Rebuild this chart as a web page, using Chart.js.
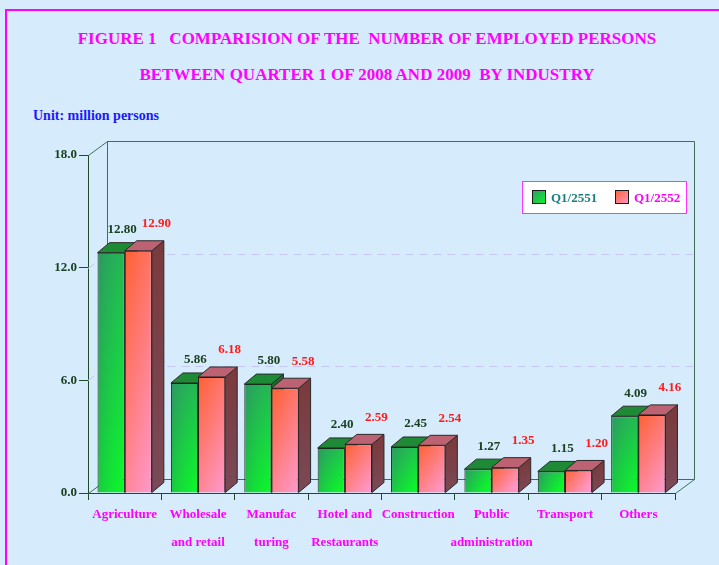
<!DOCTYPE html>
<html>
<head>
<meta charset="utf-8">
<script src="https://cdn.jsdelivr.net/npm/chart.js@4.4.1/dist/chart.umd.min.js"></script>
<style>
  body { margin: 0; width: 719px; height: 565px; overflow: hidden; background: #d6ebfc; position: relative; }
  #frame { position: absolute; left: 5px; top: 9px; width: 800px; height: 700px; border: 2px solid #ff00ff; }
  .title { position: absolute; left: 0; width: 734px; text-align: center; white-space: pre;
           font-family: 'Liberation Serif', serif; font-weight: bold; font-size: 17px; color: #ff00ff; }
  #unit { position: absolute; left: 33px; top: 108px; font-family: 'Liberation Serif', serif;
          font-weight: bold; font-size: 14px; color: #1a1aff; white-space: pre; }
  canvas { position: absolute; left: 0; top: 0; }
</style>
</head>
<body>
<div id="frame"></div>
<div class="title" style="top:29px">FIGURE 1   COMPARISION OF THE  NUMBER OF EMPLOYED PERSONS</div>
<div class="title" style="top:65px">BETWEEN QUARTER 1 OF 2008 AND 2009  BY INDUSTRY</div>
<div id="unit">Unit: million persons</div>
<canvas id="myChart" width="719" height="565"></canvas>
<script>
// data
const industries = [['Agriculture'], ['Wholesale', 'and retail'], ['Manufac', 'turing'], ['Hotel and', 'Restaurants'],
  ['Construction'], ['Public', 'administration'], ['Transport'], ['Others']];
const q2551 = [12.80, 5.86, 5.80, 2.40, 2.45, 1.27, 1.15, 4.09];
const q2552 = [12.90, 6.18, 5.58, 2.59, 2.54, 1.35, 1.20, 4.16];
const seriesNames = ['Q1/2551', 'Q1/2552'];

const serif = "'Liberation Serif', 'Times New Roman', serif";
const DX = 12, DY = 10;   // bar depth
const WX = 19, WY = 14;   // wall depth
const wallColor = '#3f6f55';
const axisColor = '#1f4a2c';

const looks = [
  { c1: '#2f9a68', c2: '#0cf52c', hl: 'rgba(45,140,95,0.45)', hr: 'rgba(10,255,40,0.25)',
    top: '#1f8a35', side: '#1f6a2c', label: '#1a4020' },
  { c1: '#ff6030', c2: '#ff9acc', hl: 'rgba(255,95,45,0.35)', hr: 'rgba(255,150,200,0.35)',
    top: '#bd6272', side: '#7a3b3e', label: '#ff1a1a' }
];

function frontFill(context) {
  const chart = context.chart;
  const look = looks[context.datasetIndex];
  if (!chart.chartArea) return look.c1;
  const x = chart.scales.x, y = chart.scales.y;
  const w = (x.getPixelForValue(1) - x.getPixelForValue(0)) * 0.74 / 2;
  const cx = x.getPixelForValue(context.dataIndex);
  const left = context.datasetIndex === 0 ? cx - w : cx;
  const top = y.getPixelForValue(context.raw);
  const h = Math.max(2, y.getPixelForValue(0) - top);
  const off = document.createElement('canvas');
  off.width = Math.ceil(w) + 2;
  off.height = Math.ceil(h) + 2;
  const o = off.getContext('2d');
  const gv = o.createLinearGradient(0, 0, w * 0.6, h);
  gv.addColorStop(0, look.c1);
  gv.addColorStop(1, look.c2);
  o.fillStyle = gv;
  o.fillRect(0, 0, off.width, off.height);
  const gh = o.createLinearGradient(0, 0, w, 0);
  gh.addColorStop(0, look.hl);
  gh.addColorStop(1, look.hr);
  o.fillStyle = gh;
  o.fillRect(0, 0, off.width, off.height);
  const pat = chart.ctx.createPattern(off, 'no-repeat');
  pat.setTransform(new DOMMatrix().translate(left - 1, top - 1));
  return pat;
}

const box3d = {
  id: 'box3d',
  beforeDatasetsDraw(chart) {
    const { ctx, chartArea: a, scales: { y } } = chart;
    ctx.save();
    ctx.lineWidth = 1;
    // dashed grid on the back wall
    ctx.strokeStyle = '#c4c8f2';
    ctx.setLineDash([8, 6]);
    [6, 12].forEach(v => {
      const py = Math.round(y.getPixelForValue(v)) + 0.5;
      ctx.beginPath();
      ctx.moveTo(a.left, py);
      ctx.lineTo(a.left + WX, py - WY);
      ctx.lineTo(a.right + WX, py - WY);
      ctx.stroke();
    });
    ctx.setLineDash([]);
    // walls
    ctx.strokeStyle = wallColor;
    const L = a.left + 0.5, R = a.right + 0.5, T = a.top + 0.5, B = a.bottom + 0.5;
    ctx.beginPath();
    ctx.moveTo(L, T); ctx.lineTo(L + WX, T - WY); ctx.lineTo(R + WX, T - WY); ctx.lineTo(R + WX, B - WY);
    ctx.moveTo(L + WX, T - WY); ctx.lineTo(L + WX, B - WY); ctx.lineTo(R + WX, B - WY); ctx.lineTo(R, B);
    ctx.moveTo(L, B); ctx.lineTo(L + WX, B - WY);
    ctx.stroke();
    // top and side faces
    ctx.strokeStyle = '#2a2a2a';
    chart.data.datasets.forEach((ds, di) => {
      const meta = chart.getDatasetMeta(di);
      meta.data.forEach(bar => {
        const p = bar.getProps(['x', 'y', 'width', 'base'], true);
        const l = p.x - p.width / 2, r = p.x + p.width / 2, t = p.y, b = p.base;
        const gs = ctx.createLinearGradient(r, t, r + DX, b);
        gs.addColorStop(0, looks[di].side);
        gs.addColorStop(1, di === 0 ? '#2a5a35' : '#7a4a58');
        ctx.fillStyle = gs;
        ctx.beginPath();
        ctx.moveTo(r, t); ctx.lineTo(r + DX, t - DY); ctx.lineTo(r + DX, b - DY); ctx.lineTo(r, b);
        ctx.closePath(); ctx.fill(); ctx.stroke();
        ctx.fillStyle = looks[di].top;
        ctx.beginPath();
        ctx.moveTo(l, t); ctx.lineTo(r, t); ctx.lineTo(r + DX, t - DY); ctx.lineTo(l + DX, t - DY);
        ctx.closePath(); ctx.fill(); ctx.stroke();
      });
    });
    ctx.restore();
  },
  afterDatasetsDraw(chart) {
    const ctx = chart.ctx;
    ctx.save();
    ctx.font = 'bold 13px ' + serif;
    ctx.textAlign = 'center';
    ctx.textBaseline = 'middle';
    chart.data.datasets.forEach((ds, di) => {
      chart.getDatasetMeta(di).data.forEach((bar, i) => {
        ctx.fillStyle = looks[di].label;
        const off = di === 0 ? [11, 23] : [18, 27];
        ctx.fillText(ds.data[i].toFixed(2), bar.x + off[0], bar.y - off[1]);
      });
    });
    ctx.restore();
  },
  afterDraw(chart) {
    // legend box
    const ctx = chart.ctx;
    ctx.save();
    ctx.fillStyle = '#ffffff';
    ctx.fillRect(522, 181, 165, 33);
    ctx.strokeStyle = '#ff33ff';
    ctx.lineWidth = 1;
    ctx.strokeRect(522.5, 181.5, 164, 32);
    ctx.font = 'bold 13px ' + serif;
    ctx.textBaseline = 'middle';
    const items = [[532, '#1a8080'], [615, '#ff00ff']];
    items.forEach((it, k) => {
      const g = ctx.createLinearGradient(it[0], 190, it[0] + 14, 204);
      g.addColorStop(0, looks[k].c1);
      g.addColorStop(1, looks[k].c2);
      ctx.fillStyle = g;
      ctx.fillRect(it[0], 190, 14, 14);
      ctx.strokeStyle = '#1a1a1a';
      ctx.strokeRect(it[0] + 0.5, 190.5, 13, 13);
      ctx.fillStyle = it[1];
      ctx.fillText(seriesNames[k], it[0] + 19, 199);
    });
    ctx.restore();
  }
};

new Chart(document.getElementById('myChart'), {
  type: 'bar',
  data: {
    labels: industries,
    datasets: [
      { label: seriesNames[0], data: q2551, backgroundColor: frontFill, borderColor: '#1a2a1a', borderWidth: 1 },
      { label: seriesNames[1], data: q2552, backgroundColor: frontFill, borderColor: '#2a1a1a', borderWidth: 1 }
    ]
  },
  options: {
    responsive: false,
    animation: false,
    devicePixelRatio: 1,
    layout: { padding: { left: 0, right: 44, top: 155, bottom: 10 } },
    datasets: { bar: { categoryPercentage: 0.74, barPercentage: 1.0 } },
    plugins: { legend: { display: false }, tooltip: { enabled: false } },
    scales: {
      x: {
        afterFit(scale) { scale.height = 62; },
        grid: { drawOnChartArea: false, color: axisColor, tickLength: 7 },
        border: { color: axisColor },
        ticks: { color: '#ff00ff', padding: 1, autoSkip: false, maxRotation: 0,
                 font: { family: serif, size: 13, weight: 'bold', lineHeight: 2.15 } }
      },
      y: {
        min: 0, max: 18,
        afterFit(scale) { scale.width = 88; },
        grid: { drawOnChartArea: false, color: axisColor, tickLength: 9 },
        border: { color: axisColor },
        ticks: { stepSize: 6, color: '#1a4020', padding: 2,
                 callback: v => v.toFixed(1),
                 font: { family: serif, size: 13, weight: 'bold' } }
      }
    }
  },
  plugins: [box3d]
});
</script>
</body>
</html>
